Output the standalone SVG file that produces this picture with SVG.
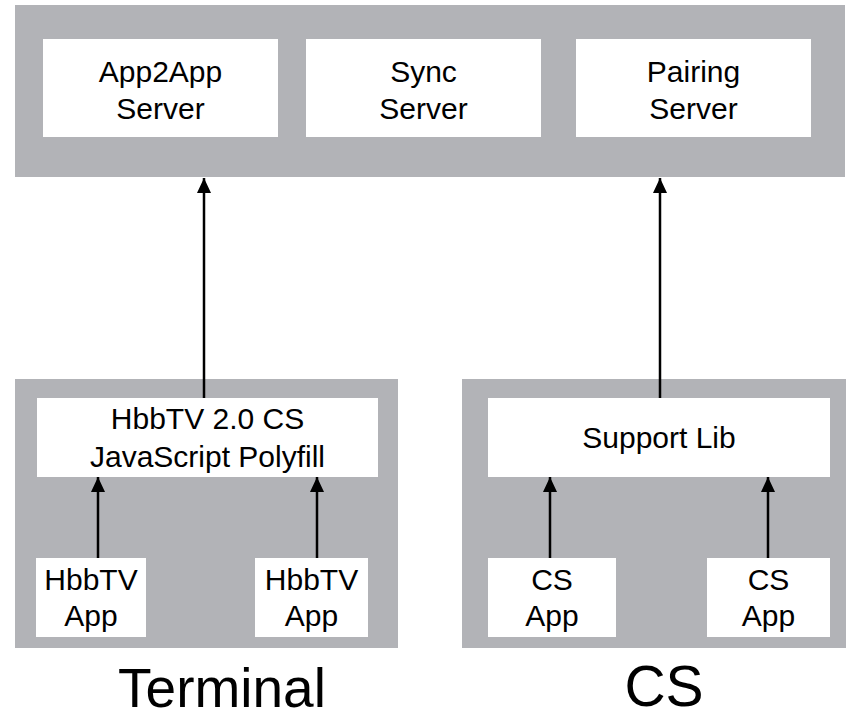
<svg xmlns="http://www.w3.org/2000/svg" width="851" height="719" viewBox="0 0 851 719">
  <style>
    .panel { fill: #b2b3b7; }
    .box { fill: #ffffff; }
    .lbl { font-family: "Liberation Sans", Arial, sans-serif; font-size: 30px; fill: #000000; text-anchor: middle; }
    .big { font-family: "Liberation Sans", Arial, sans-serif; fill: #000000; text-anchor: middle; }
    .conn { stroke: #000000; stroke-width: 2.5; fill: none; marker-end: url(#head); }
  </style>
  <defs>
    <marker id="head" markerUnits="userSpaceOnUse" markerWidth="15" markerHeight="14" refX="15" refY="7" orient="auto">
      <path d="M0,0 L15,7 L0,14 z" fill="#000000"/>
    </marker>
  </defs>

  <rect width="851" height="719" fill="#ffffff"/>

  <!-- server tier -->
  <g id="servers">
    <rect class="panel" x="15" y="5" width="830" height="172"/>
  </g>
  <g id="app2app-server">
    <rect class="box" x="43" y="39" width="235" height="98"/>
    <text class="lbl" x="160.5" y="82">App2App</text>
    <text class="lbl" x="160.5" y="119">Server</text>
  </g>
  <g id="sync-server">
    <rect class="box" x="306" y="39" width="235" height="98"/>
    <text class="lbl" x="423.5" y="82">Sync</text>
    <text class="lbl" x="423.5" y="119">Server</text>
  </g>
  <g id="pairing-server">
    <rect class="box" x="576" y="39" width="235" height="98"/>
    <text class="lbl" x="693.5" y="82">Pairing</text>
    <text class="lbl" x="693.5" y="119">Server</text>
  </g>

  <!-- terminal side -->
  <g id="terminal">
    <rect class="panel" x="15" y="379" width="383" height="269"/>
    <text class="big" x="222" y="707" font-size="55">Terminal</text>
  </g>
  <g id="polyfill">
    <rect class="box" x="37" y="398" width="341" height="79"/>
    <text class="lbl" x="207.5" y="429">HbbTV 2.0 CS</text>
    <text class="lbl" x="207.5" y="467">JavaScript Polyfill</text>
  </g>
  <g id="hbbtv-app-1">
    <rect class="box" x="36" y="558" width="110" height="79"/>
    <text class="lbl" x="91" y="590">HbbTV</text>
    <text class="lbl" x="91" y="626">App</text>
  </g>
  <g id="hbbtv-app-2">
    <rect class="box" x="255" y="558" width="113" height="79"/>
    <text class="lbl" x="311.5" y="590">HbbTV</text>
    <text class="lbl" x="311.5" y="626">App</text>
  </g>

  <!-- companion screen side -->
  <g id="cs">
    <rect class="panel" x="462" y="379" width="384" height="269"/>
    <text class="big" x="664" y="706" font-size="57">CS</text>
  </g>
  <g id="support-lib">
    <rect class="box" x="488" y="398" width="342" height="79"/>
    <text class="lbl" x="659" y="448">Support Lib</text>
  </g>
  <g id="cs-app-1">
    <rect class="box" x="488" y="558" width="128" height="79"/>
    <text class="lbl" x="552" y="590">CS</text>
    <text class="lbl" x="552" y="626">App</text>
  </g>
  <g id="cs-app-2">
    <rect class="box" x="707" y="558" width="123" height="79"/>
    <text class="lbl" x="768.5" y="590">CS</text>
    <text class="lbl" x="768.5" y="626">App</text>
  </g>

  <!-- connectors -->
  <g id="connectors">
    <line class="conn" x1="204" y1="398" x2="204" y2="178"/>
    <line class="conn" x1="660" y1="398" x2="660" y2="178"/>
    <line class="conn" x1="98" y1="558" x2="98" y2="477"/>
    <line class="conn" x1="317" y1="558" x2="317" y2="477"/>
    <line class="conn" x1="550" y1="558" x2="550" y2="477"/>
    <line class="conn" x1="768" y1="558" x2="768" y2="477"/>
  </g>
</svg>
